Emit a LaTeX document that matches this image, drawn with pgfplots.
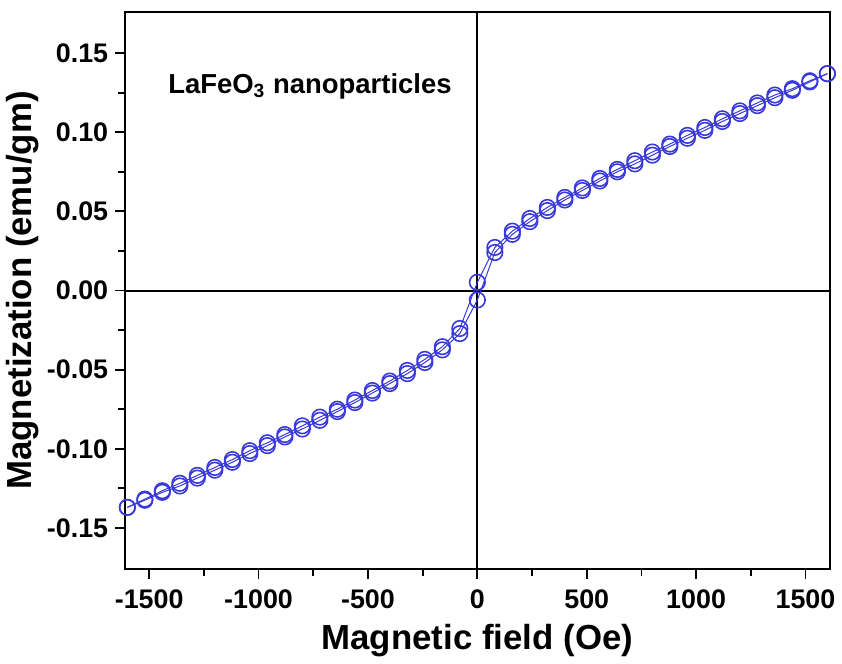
\documentclass[border=0pt]{standalone}
\usepackage{fontspec}
\setmainfont{Liberation Sans}
\usepackage{pgfplots}
\pgfplotsset{compat=1.18}
\definecolor{loopblue}{rgb}{0.22,0.22,0.86}

\begin{document}
\begin{tikzpicture}
\begin{axis}[
  scale only axis, width=354pt, height=280pt,
  xmin=-1610, xmax=1610, ymin=-0.176, ymax=0.176,
  axis line style={line width=1pt},
  tick align=outside, tick pos=left,
  xtick={-1500,-1000,...,1500}, minor x tick num=1,
  ytick={-0.15,-0.10,...,0.16}, minor y tick num=1,
  major tick length=5pt, minor tick length=3.5pt,
  every tick/.style={black, line width=0.9pt},
  /pgf/number format/assume math mode=true,
  ticklabel style={font=\bfseries\fontsize{13.5}{15}\selectfont},
  yticklabel style={/pgf/number format/.cd, fixed, fixed zerofill, precision=2},
  xticklabel style={yshift=-2pt, /pgf/number format/.cd, fixed, 1000 sep={}},
  scaled y ticks=false,
  xlabel={Magnetic field (Oe)}, ylabel={Magnetization (emu/gm)},
  label style={font=\bfseries\fontsize{17.5}{20}\selectfont},
  xlabel style={yshift=-1pt},
  ylabel style={yshift=-3pt},
  clip=true,
]
% zero lines
\addplot[black, line width=1pt, forget plot] coordinates {(0,-0.176) (0,0.176)};
\addplot[black, line width=1pt, forget plot] coordinates {(-1610,0) (1610,0)};
% descending branch
\addplot[loopblue, line width=0.5pt, mark=o, mark size=3.9pt,
  mark options={fill=white, line width=0.8pt}] coordinates {
(1600,0.1370) (1520,0.1325) (1440,0.1275) (1360,0.1235) (1280,0.1185)
(1200,0.1135) (1120,0.1085) (1040,0.1030) (960,0.0980) (880,0.0925)
(800,0.0875) (720,0.0820) (640,0.0765) (560,0.0708) (480,0.0648)
(400,0.0588) (320,0.0525) (240,0.0455) (160,0.0375) (80,0.0272)
(0,0.0052) (-80,-0.0240) (-160,-0.0355) (-240,-0.0435) (-320,-0.0505)
(-400,-0.0572) (-480,-0.0632) (-560,-0.0692) (-640,-0.0750) (-720,-0.0800)
(-800,-0.0855) (-880,-0.0910) (-960,-0.0962) (-1040,-0.1012) (-1120,-0.1068)
(-1200,-0.1118) (-1280,-0.1168) (-1360,-0.1218) (-1440,-0.1265) (-1520,-0.1318)
(-1600,-0.1370)};
% ascending branch
\addplot[loopblue, line width=0.5pt, mark=o, mark size=3.9pt,
  mark options={fill=white, line width=0.8pt}] coordinates {
(-1600,-0.1370) (-1520,-0.1325) (-1440,-0.1275) (-1360,-0.1235) (-1280,-0.1185)
(-1200,-0.1135) (-1120,-0.1085) (-1040,-0.1030) (-960,-0.0980) (-880,-0.0925)
(-800,-0.0875) (-720,-0.0820) (-640,-0.0765) (-560,-0.0708) (-480,-0.0648)
(-400,-0.0588) (-320,-0.0525) (-240,-0.0455) (-160,-0.0375) (-80,-0.0272)
(0,-0.0060) (80,0.0240) (160,0.0355) (240,0.0435) (320,0.0505)
(400,0.0572) (480,0.0632) (560,0.0692) (640,0.0750) (720,0.0800)
(800,0.0855) (880,0.0910) (960,0.0962) (1040,0.1012) (1120,0.1068)
(1200,0.1118) (1280,0.1168) (1360,0.1218) (1440,0.1265) (1520,0.1318)
(1600,0.1370)};
\node[anchor=west, font=\bfseries\fontsize{13.8}{16}\selectfont]
  at (axis cs:-1445,0.129) {LaFeO\textsubscript{3} nanoparticles};
\end{axis}
% white margin above the frame, as in the reference
\path (current axis.north) ++(0,6pt) coordinate (topgap);
\useasboundingbox (current bounding box.south west) rectangle (current bounding box.north east |- topgap);
\end{tikzpicture}
\end{document}
